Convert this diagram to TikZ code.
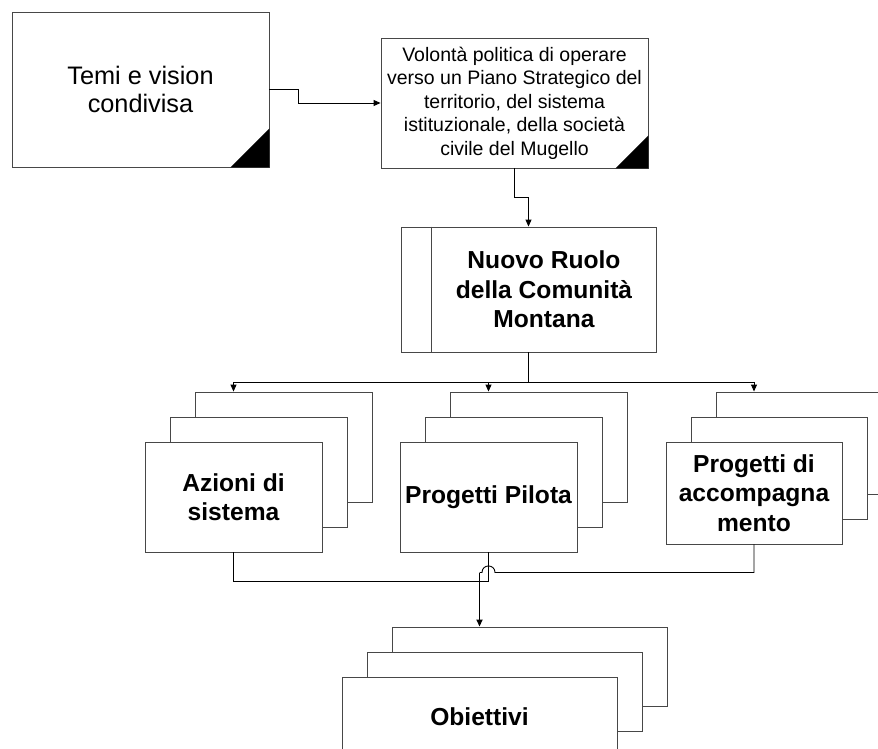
\documentclass[tikz,border=0pt]{standalone}
\usepackage{fontspec}
\setmainfont{Liberation Sans}
\usetikzlibrary{arrows.meta}
\begin{document}
\begin{tikzpicture}[x=1pt,y=-1pt,
  boxst/.style={draw=black!72, line width=0.9pt, fill=white, rectangle, inner sep=0pt, align=center},
  conn/.style={draw=black, line width=0.9pt},
  arr/.style={conn, -{Triangle[length=7pt,width=6pt]}},
  thickarr/.style={draw=black, line width=1.8pt, -{Triangle[length=7pt,width=6pt]}},
  bigtxt/.style={font=\fontsize{25.3}{28}\selectfont, align=center},
  midtxt/.style={font=\fontsize{19.5}{23.5}\selectfont, align=center},
  boldtxt/.style={font=\fontsize{24.6}{29.5}\selectfont\bfseries, align=center},
  corner/.style={fill=black}
]
\clip (0,0) rectangle (878,749);
\fill[white] (0,0) rectangle (878,749);

% top boxes
\node[boxst, minimum width=257pt, minimum height=155pt, bigtxt] (b1) at (140.5,89.5) {Temi e vision\\condivisa};
\fill[corner] (b1.south east) -- ++(-39,0) -- ++(39,-39) -- cycle;

\node[boxst, minimum width=267pt, minimum height=130pt, midtxt] (b2) at (514.5,103) {Volontà politica di operare\\verso un Piano Strategico del\\territorio, del sistema\\istituzionale, della società\\civile del Mugello};
\fill[corner] (b2.south east) -- ++(-33,0) -- ++(33,-33) -- cycle;

\node[boxst, minimum width=255pt, minimum height=125pt] (b3) at (528.5,289.5) {};
\draw[draw=black!72, line width=0.9pt] ([xshift=31pt]b3.north west) -- ([xshift=31pt]b3.south west);
\node[boldtxt] (b3t) at (544,289.5) {Nuovo Ruolo\\della Comunità\\Montana};

% stack 1
\node[boxst, minimum width=177pt, minimum height=110pt] (a1b) at (283.5,447) {};
\node[boxst, minimum width=177pt, minimum height=110pt] (a1m) at (258.5,472) {};
\node[boxst, minimum width=177pt, minimum height=110pt, boldtxt] (a1) at (233.5,497) {Azioni di\\sistema};

% stack 2
\node[boxst, minimum width=177pt, minimum height=110pt] (p1b) at (538.5,447) {};
\node[boxst, minimum width=177pt, minimum height=110pt] (p1m) at (513.5,472) {};
\node[boxst, minimum width=177pt, minimum height=110pt, boldtxt] (p1) at (488.5,497) {Progetti Pilota};

% stack 3
\node[boxst, minimum width=176pt, minimum height=102pt] (c1b) at (804,443) {};
\node[boxst, minimum width=176pt, minimum height=102pt] (c1m) at (779,468) {};
\node[boxst, minimum width=176pt, minimum height=102pt, boldtxt] (c1) at (754,493) {Progetti di\\accompagna\\mento};

% obiettivi
\node[boxst, minimum width=275pt, minimum height=79pt] (obb) at (529.5,666.5) {};
\node[boxst, minimum width=275pt, minimum height=79pt] (obm) at (504.5,691.5) {};
\node[boxst, minimum width=275pt, minimum height=79pt, boldtxt] (ob) at (479.5,716.5) {Obiettivi};

% connectors
\draw[arr] (b1.east) -- ++(29,0) |- (b2.west);
\draw[arr] (b2.south) -- ++(0,29) -| (b3.north);

\coordinate (split) at (528.5,382);
\draw[conn] (b3.south) -- (split);
\draw[arr] (split) -| (a1.north |- a1b.north);
\draw[arr] (split) -| (p1.north |- p1b.north);
\draw[arr] (split) -| (c1.north |- c1b.north);

\draw[conn] (a1.south) -- ++(0,29) -| (p1.south);

\coordinate (turn) at (479.5,572.5);
\draw[conn] (c1.south) |- (495,572.5) .. controls (495,563.8) and (482,563.8) .. (482,572.5) -- (turn);
\draw[thickarr] (turn) -- (ob.north |- obb.north);
\end{tikzpicture}
\end{document}
